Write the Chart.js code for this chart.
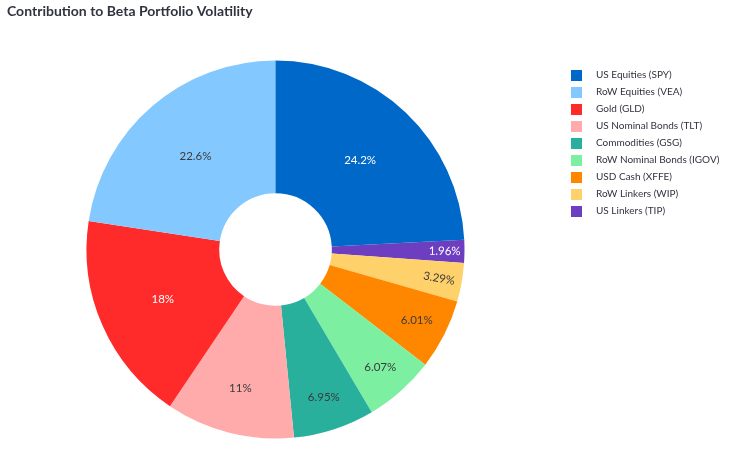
<!DOCTYPE html>
<html><head><meta charset="utf-8">
<script src="https://cdn.jsdelivr.net/npm/chart.js@4.4.1/dist/chart.umd.min.js"></script>
<style>html,body{margin:0;padding:0;background:#fff;} #wrap{position:relative;width:729px;height:453px;}</style>
</head><body><div id="wrap"><canvas id="c"></canvas></div>
<script>
const categories = ['US Equities (SPY)', 'RoW Equities (VEA)', 'Gold (GLD)', 'US Nominal Bonds (TLT)', 'Commodities (GSG)', 'RoW Nominal Bonds (IGOV)', 'USD Cash (XFFE)', 'RoW Linkers (WIP)', 'US Linkers (TIP)'];
const contributions = [24.2, 22.6, 18, 11, 6.95, 6.07, 6.01, 3.29, 1.96];
const sliceColors = ['#0068c9', '#83c9ff', '#ff2b2b', '#ffabab', '#29b09d', '#7defa1', '#ff8700', '#ffd16a', '#6d3fc0'];
const titleText = 'Contribution to Beta Portfolio Volatility';

const FONT = 'Lato';
const TEXT_COLOR = '#31333f';

// Plotly draws counterclockwise; Chart.js draws clockwise -> reverse order
const labelsCW = categories.slice().reverse();
const valuesCW = contributions.slice().reverse();
const colorsCW = sliceColors.slice().reverse();
const total = contributions.reduce((a, b) => a + b, 0);
const startRotation = contributions[0] / total * 360;

const LEGEND_FONT_SIZE = 10;
const LEGEND_PAD = 7;
const SWATCH_W = 40, SWATCH_SIZE = 11, SWATCH_OFF = 20;
const LEGEND_LEFT = 544;

function makeSwatch(color) {
  const c = document.createElement('canvas');
  c.width = SWATCH_W; c.height = SWATCH_SIZE;
  const g = c.getContext('2d');
  g.fillStyle = color;
  g.fillRect(SWATCH_OFF, 0, SWATCH_SIZE, SWATCH_SIZE);
  return c;
}

// compute right padding so that the legend starts at LEGEND_LEFT
const meas = document.createElement('canvas').getContext('2d');
meas.font = LEGEND_FONT_SIZE + 'px ' + FONT;
const maxTextW = Math.max(...categories.map(t => meas.measureText(t).width));
const legendW = LEGEND_PAD + (SWATCH_W + LEGEND_FONT_SIZE / 2 + maxTextW) + 10;
const padRight = 729 - LEGEND_LEFT - legendW;

function luminance(hex) {
  const n = parseInt(hex.slice(1), 16);
  return (0.299 * (n >> 16) + 0.587 * ((n >> 8) & 255) + 0.114 * (n & 255)) / 255;
}

const sliceLabels = {
  id: 'sliceLabels',
  afterDatasetsDraw(chart) {
    const ctx = chart.ctx;
    const meta = chart.getDatasetMeta(0);
    const ds = chart.data.datasets[0];
    ctx.save();
    ctx.font = '11.5px ' + FONT;
    ctx.textAlign = 'center';
    ctx.textBaseline = 'middle';
    meta.data.forEach((arc, i) => {
      const p = arc.getProps(['x', 'y', 'startAngle', 'endAngle', 'outerRadius'], true);
      const v = ds.data[i];
      const mid = (p.startAngle + p.endAngle) / 2;
      const frac = Math.min(0.895, Math.max(0.65, 0.93 - 0.0155 * v));
      const r = p.outerRadius * frac;
      const x = p.x + Math.cos(mid) * r;
      const y = p.y + Math.sin(mid) * r;
      ctx.fillStyle = luminance(ds.backgroundColor[i]) < 0.5 ? '#ffffff' : '#3a3a3a';
      ctx.save();
      ctx.translate(x, y);
      if (v < 5) {
        let a = Math.atan2(Math.sin(mid), Math.cos(mid));
        if (a > Math.PI / 2) a -= Math.PI;
        if (a < -Math.PI / 2) a += Math.PI;
        ctx.rotate(a);
      }
      ctx.fillText(v + '%', 0, 0);
      ctx.restore();
    });
    ctx.restore();
  }
};

new Chart(document.getElementById('c'), {
  type: 'doughnut',
  data: {
    labels: labelsCW,
    datasets: [{
      data: valuesCW,
      backgroundColor: colorsCW,
      borderWidth: 0,
      radius: 189,
      cutout: '29.8%'
    }]
  },
  options: {
    responsive: true,
    maintainAspectRatio: false,
    animation: false,
    events: [],
    rotation: startRotation,
    layout: { padding: { top: 0, left: 7, right: padRight, bottom: 17 } },
    plugins: {
      title: {
        display: true,
        text: titleText,
        align: 'start',
        color: TEXT_COLOR,
        font: { family: FONT, size: 14, weight: 'bold' },
        padding: { top: 2.6, bottom: 43.6 }
      },
      legend: {
        position: 'right',
        align: 'start',
        fullSize: false,
        reverse: true,
        labels: {
          usePointStyle: true,
          pointStyleWidth: SWATCH_W,
          boxHeight: SWATCH_SIZE,
          padding: LEGEND_PAD,
          color: TEXT_COLOR,
          font: { family: FONT, size: LEGEND_FONT_SIZE },
          generateLabels(chart) {
            const items = Chart.overrides.doughnut.plugins.legend.labels.generateLabels(chart);
            items.forEach(it => { it.pointStyle = makeSwatch(it.fillStyle); });
            return items;
          }
        }
      },
      tooltip: { enabled: false }
    }
  },
  plugins: [sliceLabels]
});
</script>
</body></html>
